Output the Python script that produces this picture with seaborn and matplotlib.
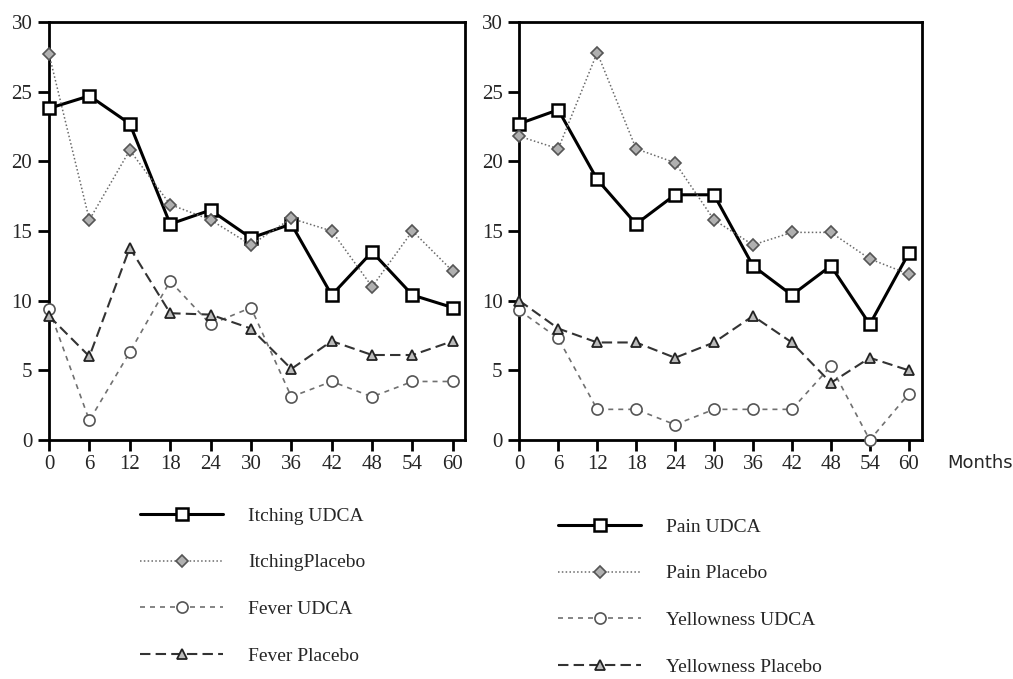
import numpy as np
import pandas as pd
import matplotlib
matplotlib.use('Agg')
import matplotlib.pyplot as plt
import seaborn as sns

sns.set_style('ticks')
plt.rcParams['font.family'] = ['Liberation Serif', 'DejaVu Serif']
plt.rcParams['font.size'] = 14

#%% data

months = [0, 6, 12, 18, 24, 30, 36, 42, 48, 54, 60]

itching_udca = [23.8, 24.7, 22.7, 15.5, 16.5, 14.5, 15.5, 10.4, 13.5, 10.4, 9.5]
itching_placebo = [27.7, 15.8, 20.8, 16.9, 15.8, 14.0, 15.9, 15.0, 11.0, 15.0, 12.1]
fever_udca = [9.4, 1.4, 6.3, 11.4, 8.3, 9.5, 3.1, 4.2, 3.1, 4.2, 4.2]
fever_placebo = [8.9, 6.0, 13.8, 9.1, 9.0, 8.0, 5.1, 7.1, 6.1, 6.1, 7.1]

pain_udca = [22.7, 23.7, 18.7, 15.5, 17.6, 17.6, 12.5, 10.4, 12.5, 8.3, 13.4]
pain_placebo = [21.8, 20.9, 27.8, 20.9, 19.9, 15.8, 14.0, 14.9, 14.9, 13.0, 11.9]
yellow_udca = [9.3, 7.3, 2.2, 2.2, 1.1, 2.2, 2.2, 2.2, 5.3, 0.0, 3.3]
yellow_placebo = [10.0, 8.0, 7.0, 7.0, 5.9, 7.0, 8.9, 7.0, 4.1, 5.9, 5.0]

left_labels = ['Itching UDCA', 'ItchingPlacebo', 'Fever UDCA', 'Fever Placebo']
right_labels = ['Pain UDCA', 'Pain Placebo', 'Yellowness UDCA', 'Yellowness Placebo']

# line styles for the four kinds of series (UDCA / placebo, 1st / 2nd symptom)
styles = [
    dict(color='k', lw=2.2, ls='-', marker='s', ms=8, mfc='white', mec='k', mew=1.8),
    dict(color='#6a6a6a', lw=1.1, ls=(0, (1, 1.5)), marker='D', ms=6, mfc='#b0b0b0', mec='#555555', mew=1.2),
    dict(color='#707070', lw=1.2, ls=(0, (3, 3)), marker='o', ms=8, mfc='white', mec='#555555', mew=1.2),
    dict(color='#333333', lw=1.5, ls=(0, (5, 2.5)), marker='^', ms=7, mfc='#bbbbbb', mec='#222222', mew=1.3),
]

#%% plot

W, H = 1013, 679
fig = plt.figure(figsize=(W / 100, H / 100), dpi=100)
ax1 = fig.add_axes([49 / W, 1 - 440 / H, (465 - 49) / W, 418 / H])
ax2 = fig.add_axes([519.3 / W, 1 - 440 / H, (921.7 - 519.3) / W, 418 / H])

panels = [
    (ax1, [itching_udca, itching_placebo, fever_udca, fever_placebo], left_labels, 61.8),
    (ax2, [pain_udca, pain_placebo, yellow_udca, yellow_placebo], right_labels, 62.0),
]

for ax, series, labels, xmax in panels:
    for vals, lab, st in zip(series, labels, styles):
        df = pd.DataFrame({'month': months, 'value': vals})
        sns.lineplot(data=df, x='month', y='value', ax=ax, label=lab,
                     clip_on=False, zorder=3, **st)
    ax.set_xlim(0, xmax)
    ax.set_ylim(0, 30)
    ax.set_xticks(months)
    ax.set_yticks(np.arange(0, 31, 5))
    ax.set_xlabel('')
    ax.set_ylabel('')
    for s in ax.spines.values():
        s.set_linewidth(2)
        s.set_color('k')
    ax.tick_params(direction='out', length=8, width=2, color='k', labelsize=15)
    ax.tick_params(axis='x', pad=3)
    ax.tick_params(axis='y', pad=4)
    ax.get_legend().remove()

leg_kw = dict(frameon=False, handlelength=4.28, handletextpad=1.29, labelspacing=1.5,
              borderpad=0, borderaxespad=0, fontsize=14, loc='upper left')
h1, l1 = ax1.get_legend_handles_labels()
fig.legend(h1, l1, bbox_to_anchor=(140 / W, 1 - 507 / H), **leg_kw)
h2, l2 = ax2.get_legend_handles_labels()
fig.legend(h2, l2, bbox_to_anchor=(558 / W, 1 - 518 / H), **leg_kw)

fig.text(947 / W, 1 - 463 / H, 'Months', family='DejaVu Sans', fontsize=13, va='center')

fig.savefig('out.png', dpi=100)
